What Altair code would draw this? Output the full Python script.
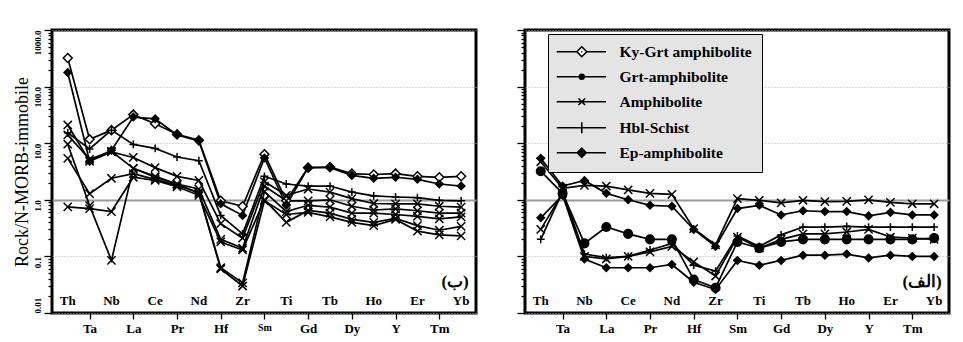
import altair as alt
import pandas as pd

elements = ["Th", "Ta", "Nb", "La", "Ce", "Pr", "Nd", "Hf", "Zr", "Sm",
            "Ti", "Gd", "Tb", "Dy", "Ho", "Y", "Er", "Tm", "Yb"]
rock_types = ["Ky-Grt amphibolite", "Grt-amphibolite", "Amphibolite",
              "Hbl-Schist", "Ep-amphibolite"]

# panel (ب) – left
b_types = ["Ky-Grt amphibolite", "Ep-amphibolite", "Hbl-Schist", "Amphibolite",
           "Amphibolite", "Amphibolite", "Amphibolite", "Amphibolite"]
b_s1 = [320, 11.7, 17, 32, 22, 14.4, 11.3, 0.96, 0.77, 6.4, 0.96, 3.7, 3.8, 2.9, 2.8, 2.9, 2.6, 2.5, 2.6]
b_s2 = [178, 4.8, 7.5, 29, 27, 14, 11, 0.85, 0.53, 5.5, 0.8, 3.7, 3.7, 2.7, 2.4, 2.5, 2.3, 1.9, 1.75]
b_s3 = [15.3, 7.9, 17, 9.5, 8.1, 5.7, 4.9, 0.53, 0.25, 2.6, 1.9, 1.75, 1.75, 1.37, 1.17, 1.12, 1.09, 0.98, 0.96]
b_s4 = [21, 4.8, 7.0, 5.6, 3.7, 2.6, 2.2, 0.38, 0.21, 2.1, 1.2, 1.55, 1.37, 1.05, 0.86, 0.85, 0.85, 0.77, 0.74]
b_s5 = [14, 5.2, 7.2, 3.6, 2.6, 1.9, 1.55, 0.2, 0.14, 1.75, 0.96, 0.96, 1.0, 0.77, 0.66, 0.69, 0.64, 0.58, 0.58]
b_s6 = [5.4, 1.28, 2.4, 2.9, 2.3, 1.8, 1.35, 0.063, 0.034, 1.4, 0.62, 0.8, 0.74, 0.58, 0.58, 0.55, 0.51, 0.46, 0.5]
b_s7 = [0.75, 0.7, 0.62, 2.5, 2.2, 1.7, 1.2, 0.18, 0.13, 1.0, 0.4, 0.65, 0.58, 0.45, 0.4, 0.47, 0.35, 0.29, 0.34]
b_s8 = [9.6, 0.79, 0.085, 3.6, 2.5, 1.9, 1.3, 0.06, 0.03, 0.96, 0.55, 0.6, 0.5, 0.4, 0.35, 0.45, 0.28, 0.24, 0.23]
b_values = [b_s1, b_s2, b_s3, b_s4, b_s5, b_s6, b_s7, b_s8]

# panel (الف) – right
a_types = ["Amphibolite", "Ep-amphibolite", "Grt-amphibolite", "Hbl-Schist",
           "Amphibolite", "Ep-amphibolite"]
a_s1 = [4.7, 1.6, 1.8, 1.75, 1.5, 1.3, 1.25, 0.31, 0.16, 1.05, 0.98, 0.88, 0.98, 0.93, 0.94, 1.0, 0.9, 0.85, 0.85]
a_s2 = [5.4, 1.75, 2.2, 1.3, 1.0, 0.8, 0.77, 0.3, 0.15, 0.7, 0.8, 0.54, 0.64, 0.62, 0.62, 0.52, 0.6, 0.54, 0.54]
a_s3 = [3.2, 1.3, 0.17, 0.33, 0.25, 0.2, 0.2, 0.039, 0.028, 0.18, 0.14, 0.18, 0.2, 0.2, 0.2, 0.2, 0.2, 0.2, 0.21]
a_s4 = [0.2, 1.4, 0.11, 0.095, 0.1, 0.13, 0.17, 0.07, 0.055, 0.23, 0.15, 0.24, 0.33, 0.33, 0.34, 0.33, 0.33, 0.33, 0.33]
a_s5 = [0.3, 1.3, 0.1, 0.09, 0.1, 0.12, 0.15, 0.08, 0.045, 0.22, 0.14, 0.2, 0.25, 0.25, 0.27, 0.3, 0.22, 0.21, 0.2]
a_s6 = [0.48, 1.2, 0.09, 0.063, 0.063, 0.063, 0.072, 0.035, 0.026, 0.085, 0.07, 0.085, 0.105, 0.105, 0.11, 0.094, 0.105, 0.1, 0.1]
a_values = [a_s1, a_s2, a_s3, a_s4, a_s5, a_s6]

upper_labels = [e for i, e in enumerate(elements) if i % 2 == 0]
upper_idx = [i for i in range(len(elements)) if i % 2 == 0]
lower_idx = [i for i in range(len(elements)) if i % 2 == 1]

SERIF = "Liberation Serif"
X_PATH = "M-1,-1L1,1M-1,1L1,-1"
PLUS_PATH = "M-1,0L1,0M0,-1L0,1"
marker_shapes = ["diamond", "circle", X_PATH, PLUS_PATH, "diamond"]
marker_fills = ["white", "black", "transparent", "transparent", "black"]
marker_sizes = [80, 55, 45, 70, 70]

# legend symbols: line + marker (units scaled by sqrt(size)/2)
leg_paths = [
    "M-1.5,0L1.85,0M3.5,0L6.7,0M2.67,-0.83L3.5,0L2.67,0.83L1.85,0ZM2.57,0L2.77,0",
    "M-1.5,0L6.7,0M2.27,0A0.4,0.4 0 1,0 3.07,0A0.4,0.4 0 1,0 2.27,0Z",
    "M-1.5,0L6.7,0M2.12,-0.55L3.22,0.55M2.12,0.55L3.22,-0.55",
    "M-1.5,0L6.7,0M2.67,-0.9L2.67,0.9",
    "M-1.5,0L6.7,0M2.67,-0.75L3.42,0L2.67,0.75L1.92,0Z",
]


def to_frame(types, values, prefix):
    rows = []
    for k, (t, vals) in enumerate(zip(types, values)):
        for i, v in enumerate(vals):
            rows.append({"sample": f"{prefix}{k}", "type": t, "idx": i,
                         "element": elements[i], "value": v})
    return pd.DataFrame(rows)


df_b = to_frame(b_types, b_values, "b")
df_a = to_frame(a_types, a_values, "a")
lab_df = pd.DataFrame({"idx": upper_idx, "name": upper_labels})

major_vals = [0.01, 0.1, 1, 10, 100, 1000]
minor_vals = [m * 10.0 ** e for e in range(-2, 3) for m in range(2, 10)]
y_ticks = sorted(major_vals + minor_vals)
IS_MAJOR = "abs(log(datum.value)/LN10 - round(log(datum.value)/LN10)) < 0.001"
IS_ONE = "abs(datum.value - 1) < 0.001"

x_scale = alt.Scale(domain=[-0.72, 18.68], nice=False, zero=False)
y_scale = alt.Scale(type="log", domain=[0.01, 1000], nice=False)
label_js = "[" + ",".join(f"'{e}'" for e in elements) + "]"


def y_axis(show_labels):
    kw = dict(
        values=y_ticks,
        tickSize={"condition": {"test": IS_MAJOR, "value": 8}, "value": 4},
        tickColor="black", tickWidth=1.3,
        grid=True,
        gridColor={"condition": {"test": IS_ONE, "value": "#9a9a9a"}, "value": "#b5b5b5"},
        gridDash={"condition": {"test": IS_ONE, "value": [1, 0]}, "value": [1, 2]},
        gridOpacity={"condition": {"test": IS_MAJOR, "value": 1}, "value": 0},
        gridWidth={"condition": {"test": IS_ONE, "value": 1.8}, "value": 1},
        domain=False,
        labelOverlap=False,
    )
    if show_labels:
        kw.update(
            labelExpr=f"({IS_MAJOR}) ? (datum.value < 0.05 ? '0.01' : format(datum.value, '.1f')) : ''",
            labelAngle=270,
            labelAlign={"condition": {"test": "datum.value < 0.05", "value": "left"},
                        "value": "right"},
            labelBaseline="bottom",
            labelFont=SERIF, labelFontWeight="bold", labelFontSize=9,
            labelPadding=2, labelColor="black",
            title="Rock/N-MORB-immobile", titleFont=SERIF, titleFontSize=18,
            titleFontWeight="normal", titleColor="black", titlePadding=2,
        )
    else:
        kw.update(labels=False, title=None)
    return alt.Axis(**kw)


def x_axis(small_sm):
    fs = {"condition": {"test": "datum.value == 9", "value": 10}, "value": 13} if small_sm else 13
    return alt.Axis(values=lower_idx, labelExpr=f"{label_js}[datum.value]",
                    labelFont=SERIF, labelFontWeight="bold", labelFontSize=fs,
                    labelColor="black", tickSize=6, tickColor="black", tickWidth=1.3,
                    labelPadding=3, grid=False, domain=False, title=None,
                    labelOverlap=False)


def panel(df, show_labels, tag, small_sm, with_legend):
    base = alt.Chart(df)
    lines = base.mark_line(color="black", strokeWidth=1.7).encode(
        x=alt.X("idx:Q", scale=x_scale, axis=x_axis(small_sm)),
        y=alt.Y("value:Q", scale=y_scale, axis=y_axis(show_labels)),
        detail="sample:N",
    )
    points = base.mark_point(stroke="black", strokeWidth=1.5, opacity=1).encode(
        x="idx:Q", y="value:Q",
        shape=alt.Shape("type:N", scale=alt.Scale(domain=rock_types, range=marker_shapes), legend=None),
        fill=alt.Fill("type:N", scale=alt.Scale(domain=rock_types, range=marker_fills), legend=None),
        size=alt.Size("type:N", scale=alt.Scale(domain=rock_types, range=marker_sizes), legend=None),
    )
    labels = alt.Chart(lab_df).mark_text(font=SERIF, fontWeight="bold", fontSize=13,
                                         color="black", baseline="middle").encode(
        x="idx:Q", y=alt.datum(0.0165), text="name:N")
    tag_text = alt.Chart(pd.DataFrame({"t": [tag]})).mark_text(
        font=SERIF, fontWeight="bold", fontSize=17, color="black",
        align="right", baseline="middle").encode(
        x=alt.datum(18.35), y=alt.datum(0.036), text="t:N")
    layers = [lines, points, labels, tag_text]
    if with_legend:
        leg_df = pd.DataFrame({"ltype": rock_types})
        leg = alt.Chart(leg_df).transform_filter("false").mark_point(
            strokeWidth=1.6, opacity=1, size=144).encode(
            shape=alt.Shape("ltype:N", scale=alt.Scale(domain=rock_types, range=leg_paths),
                            legend=alt.Legend(
                                orient="none", legendX=23, legendY=4, title=None,
                                fillColor="#e4e4e4", strokeColor="black",
                                padding=10, rowPadding=8,
                                labelFont=SERIF, labelFontSize=15.5, labelFontWeight="bold",
                                labelColor="black", labelOffset=46, labelLimit=300,
                                symbolSize=144, symbolStrokeWidth=1.6)),
            fill=alt.Fill("ltype:N", scale=alt.Scale(domain=rock_types,
                                                     range=["white", "black", "transparent", "transparent", "black"])),
            stroke=alt.Stroke("ltype:N", scale=alt.Scale(domain=rock_types,
                                                         range=["black"] * 5)),
        )
        layers.append(leg)
    ch = alt.layer(*layers).properties(width=424, height=283)
    if with_legend:
        ch = ch.resolve_scale(shape="independent", fill="independent", stroke="independent")
    return ch


left = panel(df_b, True, "(ب)", True, False)
right = panel(df_a, False, "(الف)", False, True)

chart = alt.hconcat(left, right, spacing=36).properties(
    padding={"left": 3, "top": 19, "right": 4, "bottom": 2},
    background="white",
).configure_view(stroke="black", strokeWidth=3)

chart.save("out.html", embed_options={"renderer": "svg", "actions": False})
